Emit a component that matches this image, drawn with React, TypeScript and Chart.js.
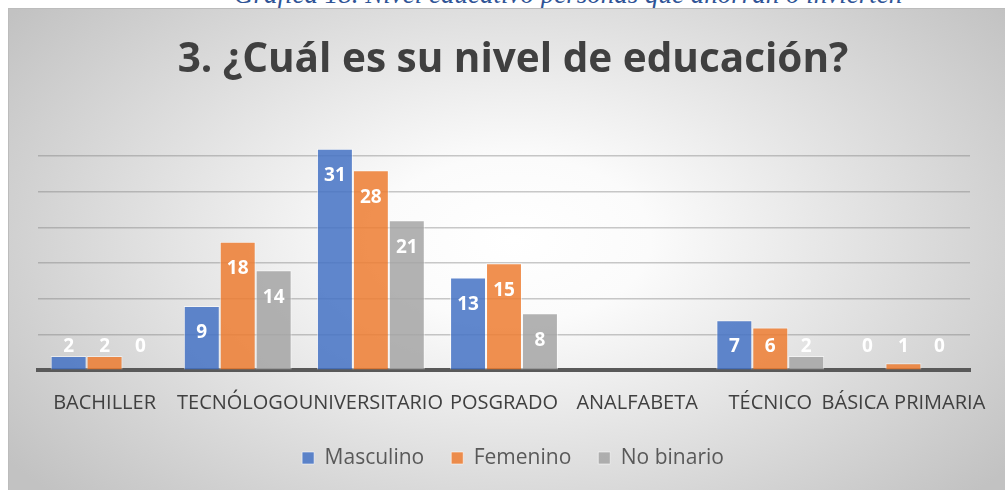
import React, { useEffect, useRef } from "react";
import { Chart, registerables } from "chart.js";

Chart.register(...registerables);

const caption = "Gráfica 18. Nivel educativo personas que ahorran o invierten";
const title = "3. ¿Cuál es su nivel de educación?";
const categories = [
  "BACHILLER",
  "TECNÓLOGO",
  "UNIVERSITARIO",
  "POSGRADO",
  "ANALFABETA",
  "TÉCNICO",
  "BÁSICA PRIMARIA",
];
const seriesNames = ["Masculino", "Femenino", "No binario"];
const masculino = [2, 9, 31, 13, null, 7, 0];
const femenino = [2, 18, 28, 15, null, 6, 1];
const noBinario = [0, 14, 21, 8, null, 2, 0];
const yMax = 35;
const yStep = 5;

const seriesColors = [
  "rgba(68,114,196,0.85)",
  "rgba(237,125,49,0.85)",
  "rgba(165,165,165,0.85)",
];

const valueLabels = {
  id: "valueLabels",
  afterDatasetsDraw(chart: any) {
    const { ctx, chartArea } = chart;
    ctx.save();
    ctx.font = 'bold 19px "Open Sans"';
    ctx.fillStyle = "#ffffff";
    ctx.textAlign = "center";
    ctx.textBaseline = "middle";
    chart.data.datasets.forEach((ds: any, i: number) => {
      const meta = chart.getDatasetMeta(i);
      meta.data.forEach((bar: any, j: number) => {
        const v = ds.data[j];
        if (v === null || v === undefined) return;
        const y = Math.min(bar.y + 27, chartArea.bottom - 24);
        ctx.fillText(String(v), bar.x, y);
      });
    });
    ctx.restore();
  },
};

export default function App() {
  const ref = useRef<HTMLCanvasElement>(null);

  useEffect(() => {
    document.body.style.overflow = "hidden";
    const canvas = ref.current;
    if (!canvas) return;
    const data = [masculino, femenino, noBinario];
    const chart = new Chart(canvas, {
      type: "bar",
      data: {
        labels: categories,
        datasets: seriesNames.map((name, i) => ({
          label: name,
          data: data[i],
          backgroundColor: seriesColors[i],
          borderColor: "rgba(255,255,255,0.55)",
          borderWidth: 1,
          categoryPercentage: 0.81,
          barPercentage: 1,
        })),
      },
      options: {
        animation: false,
        responsive: false,
        maintainAspectRatio: false,
        layout: { padding: { left: 0, right: 0, top: 0, bottom: 11.5 } },
        plugins: {
          title: {
            display: true,
            text: title,
            color: "#404040",
            font: { family: "Open Sans", size: 40.5, weight: "bold" },
            padding: { top: 28, bottom: 35.7 },
          },
          legend: {
            position: "bottom",
            labels: {
              boxWidth: 12,
              boxHeight: 12,
              padding: 27,
              color: "#595959",
              font: { family: "Open Sans", size: 21 },
            },
          },
          tooltip: { enabled: false },
        },
        scales: {
          x: {
            grid: { display: false, drawTicks: false },
            border: { display: true, color: "#595959", width: 4 },
            ticks: {
              autoSkip: false,
              maxRotation: 0,
              minRotation: 0,
              padding: 21,
              color: "#404040",
              font: { family: "Open Sans", size: 20 },
            },
            afterFit: (s: any) => {
              s.height = 50.2;
            },
          },
          y: {
            min: 0,
            max: yMax,
            ticks: { display: false, stepSize: yStep },
            border: { display: false },
            grid: {
              drawTicks: false,
              lineWidth: 1.5,
              color: (c: any) =>
                c.tick && (c.tick.value === 0 || c.tick.value === yMax)
                  ? "rgba(0,0,0,0)"
                  : "rgba(120,120,120,0.4)",
            },
            afterFit: (s: any) => {
              s.width = 30;
            },
          },
          yRight: {
            position: "right",
            min: 0,
            max: yMax,
            ticks: { display: false },
            border: { display: false },
            grid: { display: false, drawTicks: false },
            afterFit: (s: any) => {
              s.width = 48;
            },
          },
        },
      },
      plugins: [valueLabels],
    });
    return () => chart.destroy();
  }, []);

  return (
    <div
      style={{
        position: "fixed",
        left: 0,
        top: 0,
        width: 1005,
        height: 490,
        overflow: "hidden",
        background: "#ffffff",
      }}
    >
      <div
        style={{
          position: "absolute",
          left: 234,
          top: -19,
          whiteSpace: "nowrap",
          fontFamily: '"Liberation Serif", serif',
          fontStyle: "italic",
          fontSize: 27,
          lineHeight: "26px",
          color: "#2F5496",
        }}
      >
        {caption}
      </div>
      <div
        style={{
          position: "absolute",
          left: 8,
          top: 8,
          width: 1010,
          height: 482,
          background:
            "radial-gradient(ellipse 62% 78% at 50% 48%, #ffffff 0%, #fbfbfb 22%, #c2c2c2 100%)",
          boxShadow: "inset 1px 1px 0 #bcbcbc",
        }}
      >
        <canvas ref={ref} width={1010} height={482} style={{ display: "block" }} />
      </div>
    </div>
  );
}
